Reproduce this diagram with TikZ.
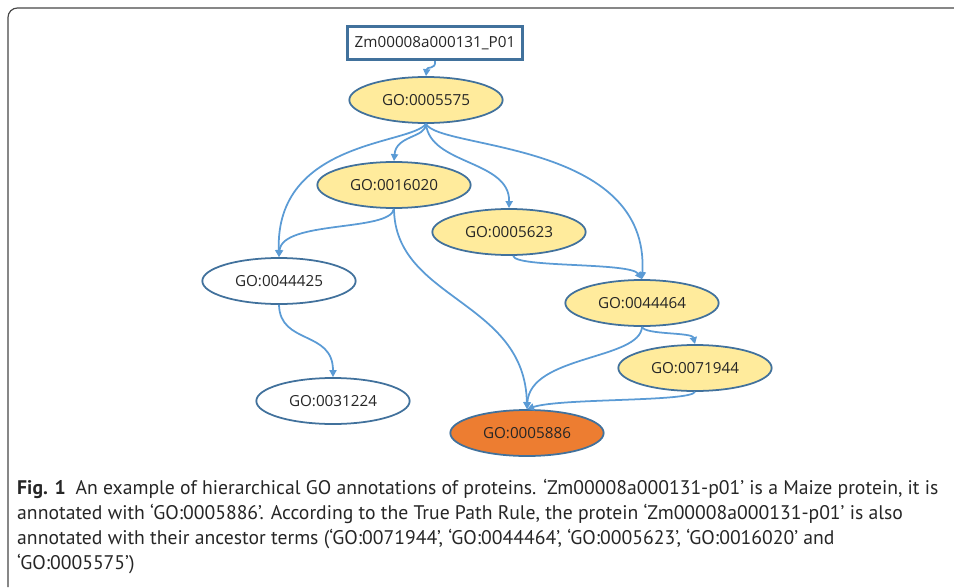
\documentclass[tikz,border=0pt]{standalone}
\usepackage{fontspec}
\setmainfont{Open Sans}
\newfontfamily\capfont{PT Sans}
\usetikzlibrary{arrows.meta,shapes.geometric}
\definecolor{termline}{RGB}{65,113,156}
\definecolor{termfill}{RGB}{255,235,156}
\definecolor{hitfill}{RGB}{237,125,49}
\definecolor{linkblue}{RGB}{91,155,213}
\definecolor{framegray}{RGB}{70,70,70}
\definecolor{inktext}{RGB}{38,38,38}

\begin{document}
\begin{tikzpicture}[x=0.03cm, y=-0.03cm,
  term/.style={ellipse, draw=termline, line width=1.5pt, fill=termfill,
               minimum width=4.6cm, minimum height=1.38cm, inner sep=0pt,
               font=\fontsize{13}{15}\selectfont, text=inktext},
  other/.style={term, fill=white},
  hit/.style={term, fill=hitfill},
  protein/.style={rectangle, draw=termline, line width=3pt, fill=white,
                  minimum width=5.25cm, minimum height=0.98cm, inner sep=0pt,
                  font=\fontsize{13}{15}\selectfont, text=inktext},
  link/.style={-{Triangle[length=6pt,width=6pt]}, line width=1.5pt, linkblue},
  caption/.style={anchor=north west, align=left, inner sep=0pt, text=inktext,
                  font=\capfont\fontsize{16.8}{21.4}\selectfont}
]
\useasboundingbox (0,0) rectangle (954,587);

\draw[framegray, line width=1pt, rounded corners=8pt] (954,8) -- (8,8) -- (8,587);

\node[protein] (prot) at (435,43) {Zm00008a000131\_P01};
\node[term]  (go5575) at (426,100) {GO:0005575};
\node[term]  (go16020) at (394,185) {GO:0016020};
\node[term]  (go5623) at (509,232) {GO:0005623};
\node[other] (go44425) at (279,281) {GO:0044425};
\node[term]  (go44464) at (642,303) {GO:0044464};
\node[term]  (go71944) at (695,368) {GO:0071944};
\node[other] (go31224) at (333,401) {GO:0031224};
\node[hit]   (go5886) at (527,433) {GO:0005886};

\draw[link] (prot.south) .. controls (436,70) and (427,66) .. (go5575.north);
\draw[link] (go5575.south) .. controls (426,138) and (396,135) .. (go16020.north);
\draw[link] (go5575.south) .. controls (410,145) and (275,140) .. (go44425.north);
\draw[link] (go5575.south) .. controls (430,165) and (510,160) .. (go5623.north);
\draw[link] (go5575.south) .. controls (440,150) and (650,140) .. (go44464.north);
\draw[link] (go16020.south) .. controls (390,232) and (282,220) .. (go44425.north);
\draw[link] (go16020.south) .. controls (395,300) and (525,300) .. (go5886.north);
\draw[link] (go5623.-80) .. controls (515,268) and (630,262) .. (go44464.north);
\draw[link] (go44425.south) .. controls (280,345) and (333,330) .. (go31224.north);
\draw[link] (go44464.south) .. controls (645,335) and (692,332) .. (go71944.north);
\draw[link] (go44464.south) .. controls (640,360) and (530,355) .. (go5886.north);
\draw[link] (go71944.south) .. controls (690,402) and (560,398) .. (go5886.north);

\node[caption] (cap) at (17,479) {\textbf{Fig. 1}\enspace An example of hierarchical GO annotations of proteins. ‘Zm00008a000131-p01’ is a Maize protein, it is\\
annotated with ‘GO:0005886’. According to the True Path Rule, the protein ‘Zm00008a000131-p01’ is also\\
annotated with their ancestor terms (‘GO:0071944’, ‘GO:0044464’, ‘GO:0005623’, ‘GO:0016020’ and\\
‘GO:0005575’)};
\end{tikzpicture}
\end{document}
